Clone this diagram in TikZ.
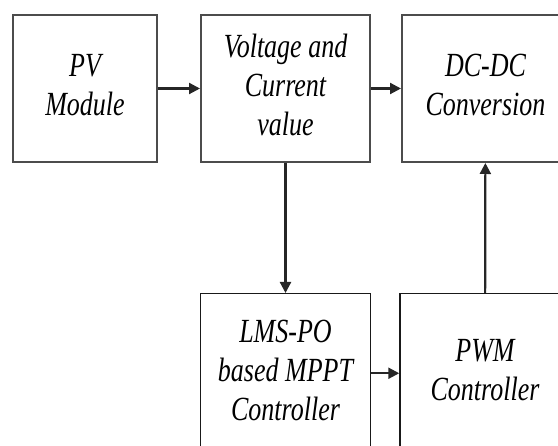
\documentclass[tikz,border=0pt]{standalone}
\usepackage{fontspec}
\setmainfont{Liberation Serif}
\usepackage{graphicx}
\usetikzlibrary{arrows.meta,positioning}
\newcommand{\tall}[1]{\scalebox{1}[1.3]{\begin{tabular}{@{}c@{}}#1\end{tabular}}}

\begin{document}
\begin{tikzpicture}[node distance=130pt and 42pt, box/.style={draw=black!70, line width=2pt, inner sep=0pt, minimum width=169pt, minimum height=147pt, align=center, font=\itshape\fontsize{26}{30}\selectfont}, lowbox/.style={box, draw=black!90, line width=1.5pt, minimum width=170pt, minimum height=159pt}, arr/.style={-{Triangle[length=11pt, width=11pt]}, line width=2.2pt, black!85}]
\useasboundingbox (0,0) rectangle (558pt,-446pt);
\clip (0,0) rectangle (558pt,-446pt);
\node[box, minimum width=144pt] (pv) at (85pt,-88.5pt) {\tall{PV\\Module}};
\node[box, right=42pt of pv] (volt) {\tall{Voltage and\\Current\\value}};
\node[box, right=30pt of volt, minimum width=167pt] (dc) {\tall{DC-DC\\Conversion}};
\node[lowbox, below=130pt of volt] (lms) {\tall{LMS-PO\\based MPPT\\Controller}};
\node[lowbox, right=28pt of lms] (pwm) {\tall{PWM\\Controller}};
\draw[arr] (pv) -- (volt); \draw[arr] (volt) -- (dc); \draw[arr] (volt) -- (lms);
\draw[arr] (lms) -- (pwm); \draw[arr] (pwm) -- (dc);
\end{tikzpicture}
\end{document}
